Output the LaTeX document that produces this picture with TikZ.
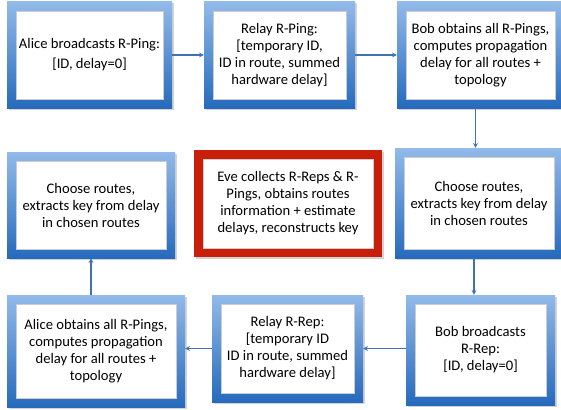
\documentclass[tikz,border=0pt]{standalone}
\usepackage{fontspec}
\setmainfont{Carlito}
\usetikzlibrary{shadows}
\definecolor{boxtop}{RGB}{146,186,234}
\definecolor{boxbot}{RGB}{38,106,188}
\definecolor{evered}{RGB}{200,30,10}
\definecolor{flowblue}{RGB}{64,114,178}
\tikzset{
  frame/.style={rectangle, inner sep=0pt, align=center,
    font=\fontsize{14.6}{17}\selectfont,
    drop shadow={opacity=0.35, shadow xshift=1.5pt, shadow yshift=-1.5pt},
    path picture={\filldraw[white, draw=gray!40, thin]
      ([shift={(9pt,-9pt)}]path picture bounding box.north west) rectangle
      ([shift={(-9pt,9pt)}]path picture bounding box.south east);}},
  stage/.style={frame, top color=boxtop, bottom color=boxbot},
  alarm/.style={frame, fill=evered},
  flow/.style={draw=flowblue, line width=1.1pt, ->, >=stealth},
}
\begin{document}
\begin{tikzpicture}[x=1pt, y=-1pt]
  \useasboundingbox (0,0) rectangle (561,409);
  % R-Ping
  \node[stage, minimum width=165pt, minimum height=106pt] (alicecast) at (89.5,55)
    {Alice broadcasts R-Ping:\\[3pt]{[}ID, delay=0]};
  \node[stage, minimum width=151pt, minimum height=106pt] (relayping) at (279.5,55)
    {Relay R-Ping:\\{[}temporary ID,\\ID in route, summed\\hardware delay]};
  \node[stage, minimum width=167pt, minimum height=106pt] (bobping) at (480.5,55)
    {Bob obtains all R-Pings,\\computes propagation\\delay for all routes +\\topology};
  % Keys and Eve
  \node[stage, minimum width=168pt, minimum height=106pt] (alicekey) at (91,205)
    {Choose routes,\\extracts key from delay\\in chosen routes};
  \node[alarm, minimum width=188pt, minimum height=107pt] (eve) at (288,203.5)
    {Eve collects R-Reps \& R-\\Pings, obtains routes\\information + estimate\\delays, reconstructs key};
  \node[stage, minimum width=168pt, minimum height=110pt] (bobkey) at (479,203)
    {Choose routes,\\extracts key from delay\\in chosen routes};
  % R-Rep
  \node[stage, minimum width=178pt, minimum height=112pt] (aliceget) at (96,351)
    {Alice obtains all R-Pings,\\computes propagation\\delay for all routes +\\topology};
  \node[stage, minimum width=151pt, minimum height=107pt] (relayrep) at (287.5,348.5)
    {Relay R-Rep:\\{[}temporary ID\\ID in route, summed\\hardware delay]};
  \node[stage, minimum width=149pt, minimum height=110pt] (bobcast) at (480.5,350)
    {Bob broadcasts\\R-Rep:\\{[}ID, delay=0]};
  % Flechas
  \draw[flow] (alicecast) -- (relayping);
  \draw[flow] (relayping) -- (bobping);
  \draw[flow] ([xshift=-5pt]bobping.south) -- ([xshift=-5pt]bobping.south |- bobkey.north);
  \draw[flow] ([xshift=-5pt]bobkey.south) -- ([xshift=-5pt]bobkey.south |- bobcast.north);
  \draw[flow] (bobcast.west |- relayrep.east) -- (relayrep.east);
  \draw[flow] (relayrep.west) -- (relayrep.west -| aliceget.east);
  \draw[flow] (aliceget.north -| alicekey.south) -- (alicekey.south);
\end{tikzpicture}
\end{document}
